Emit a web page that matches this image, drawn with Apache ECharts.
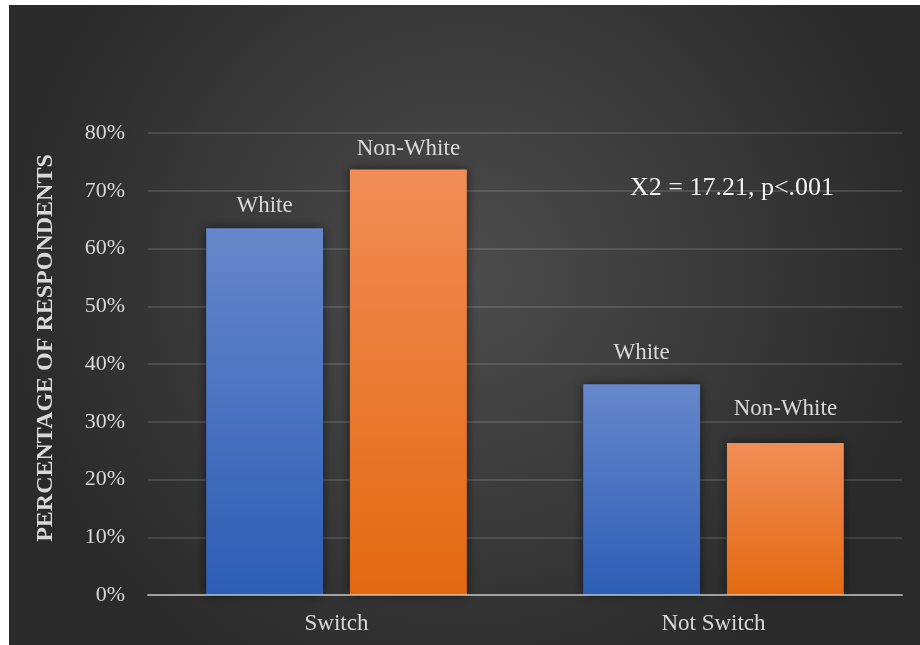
<!DOCTYPE html>
<html>
<head>
<meta charset="utf-8">
<script src="https://cdn.jsdelivr.net/npm/echarts@6/dist/echarts.min.js"></script>
<style>
  html, body { margin: 0; padding: 0; background: #ffffff; }
  #chart { width: 920px; height: 645px; }
</style>
</head>
<body>
<div id="chart"></div>
<script>
// Respondents who switched vs. did not switch, by race group (percent)
const categories = ['Switch', 'Not Switch'];
const seriesNames = ['White', 'Non-White'];
const whiteValues = [63.5, 36.5];
const nonWhiteValues = [73.7, 26.3];
const yTicks = { min: 0, max: 80, interval: 10 };
const yAxisTitle = 'PERCENTAGE OF RESPONDENTS';
const statNote = 'X2 = 17.21, p<.001';

const serif = 'Liberation Serif';
const textColor = '#d9d9d9';

// distance between each value label and the top of its bar
const whiteLabelGap = [11, 20];
const nonWhiteLabelGap = [9, 23];

function gradient(top, bottom) {
  return new echarts.graphic.LinearGradient(0, 0, 0, 1, [
    { offset: 0, color: top },
    { offset: 1, color: bottom }
  ]);
}

function buildSeries(name, values, gaps, topColor, bottomColor) {
  return {
    name: name,
    type: 'bar',
    barWidth: '31%',
    barGap: '23%',
    z: 2,
    itemStyle: {
      color: gradient(topColor, bottomColor),
      shadowBlur: 10,
      shadowColor: 'rgba(0,0,0,0.55)',
      shadowOffsetX: 0,
      shadowOffsetY: 0
    },
    label: {
      show: true,
      position: 'top',
      formatter: '{a}',
      color: textColor,
      fontFamily: serif,
      fontSize: 23
    },
    data: values.map((v, i) => ({ value: v, label: { distance: gaps[i] } }))
  };
}

const chart = echarts.init(document.getElementById('chart'), null, { renderer: 'canvas' });

chart.setOption({
  backgroundColor: '#ffffff',
  animation: false,
  textStyle: { fontFamily: serif },
  graphic: [
    {
      type: 'rect',
      z: -10,
      silent: true,
      shape: { x: 9, y: 5, width: 911, height: 640 },
      style: {
        fill: new echarts.graphic.RadialGradient(0.5, 0.42, 0.72, [
          { offset: 0, color: '#4c4c4c' },
          { offset: 1, color: '#2a2a2a' }
        ])
      }
    },
    {
      type: 'text',
      z: 10,
      left: 630,
      top: 175,
      style: {
        text: statNote,
        fill: '#f2f2f2',
        fontFamily: serif,
        fontSize: 26
      }
    }
  ],
  grid: { left: 148, right: 18, top: 133, bottom: 50, containLabel: false },
  xAxis: {
    type: 'category',
    data: categories,
    z: 3,
    axisLine: { show: true, lineStyle: { color: 'rgba(217,217,217,0.62)', width: 2 } },
    axisTick: { show: false },
    axisLabel: { color: textColor, fontFamily: serif, fontSize: 23, margin: 17 }
  },
  yAxis: {
    type: 'value',
    min: yTicks.min,
    max: yTicks.max,
    interval: yTicks.interval,
    z: 0,
    name: yAxisTitle,
    nameLocation: 'middle',
    nameGap: 90,
    nameRotate: 90,
    nameTextStyle: {
      color: textColor,
      fontFamily: serif,
      fontSize: 24,
      fontWeight: 'bold',
      padding: [0, 0, 0, 32]
    },
    axisLine: { show: false },
    axisTick: { show: false },
    axisLabel: { formatter: '{value}%', color: textColor, fontFamily: serif, fontSize: 22, margin: 23 },
    splitLine: { lineStyle: { color: 'rgba(255,255,255,0.12)', width: 2 } }
  },
  series: [
    buildSeries(seriesNames[0], whiteValues, whiteLabelGap, '#6687cb', '#2d5db5'),
    buildSeries(seriesNames[1], nonWhiteValues, nonWhiteLabelGap, '#f18d57', '#e36910')
  ]
});
</script>
</body>
</html>
